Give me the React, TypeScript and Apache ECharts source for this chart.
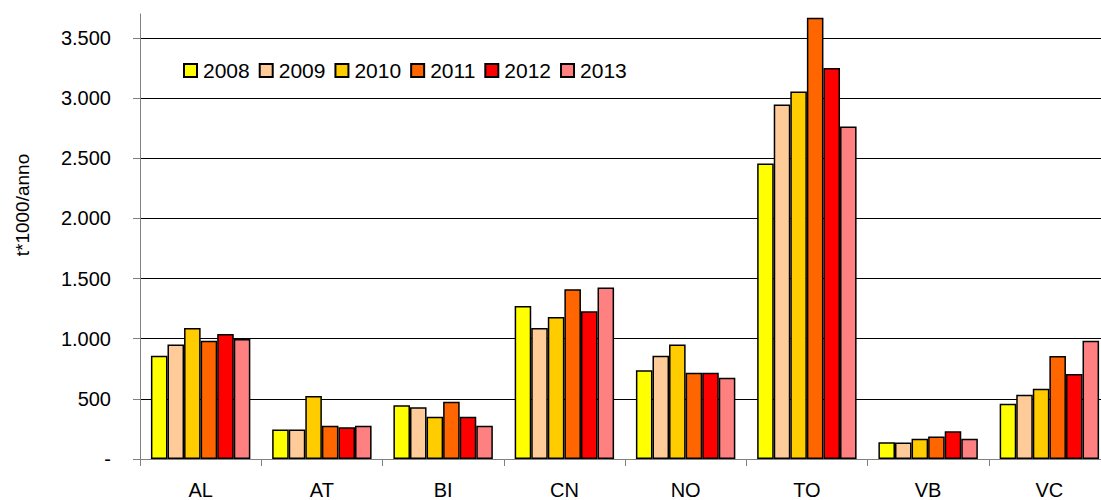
import React, { useEffect, useRef } from "react";
import * as echarts from "echarts";

const categories = ["AL", "AT", "BI", "CN", "NO", "TO", "VB", "VC"];
const years = ["2008", "2009", "2010", "2011", "2012", "2013"];
const colors = ["#FFFF00", "#FFCC99", "#FFCC00", "#FF6600", "#FF0000", "#FF8080"];

const v2008 = [859, 246, 447, 1272, 738, 2456, 139, 460];
const v2009 = [951, 246, 430, 1090, 859, 2947, 137, 535];
const v2010 = [1090, 524, 352, 1181, 951, 3055, 169, 585];
const v2011 = [984, 277, 477, 1411, 718, 3668, 188, 857];
const v2012 = [1040, 264, 352, 1228, 718, 3252, 230, 707];
const v2013 = [998, 277, 277, 1425, 676, 2764, 169, 984];
const seriesValues = [v2008, v2009, v2010, v2011, v2012, v2013];

const yTicks = [0, 500, 1000, 1500, 2000, 2500, 3000, 3500];
const yTitle = "t*1000/anno";

const FONT = "'Liberation Sans', Arial, sans-serif";

function fmt(v: number): string {
  if (v === 0) return "-";
  return String(Math.round(v)).replace(/\B(?=(\d{3})+(?!\d))/g, ".");
}

export default function App() {
  const ref = useRef<HTMLDivElement>(null);
  useEffect(() => {
    if (!ref.current) return;
    const chart = echarts.init(ref.current, undefined, { renderer: "svg" });
    chart.setOption({
      animation: false,
      backgroundColor: "#ffffff",
      textStyle: { fontFamily: FONT },
      grid: { left: 140, top: 14, bottom: 41, width: 970, outerBoundsMode: "none", containLabel: false },
      legend: {
        left: 183,
        top: 60,
        padding: 0,
        icon: "rect",
        itemWidth: 13,
        itemHeight: 13,
        itemGap: 9,
        textStyle: { fontSize: 21, color: "#000", fontFamily: FONT, padding: [0, 0, 0, 1] },
        data: years,
      },
      xAxis: {
        type: "category",
        data: categories,
        axisLine: { lineStyle: { color: "#808080", width: 1 } },
        axisTick: { show: true, length: 7, lineStyle: { color: "#808080" } },
        axisLabel: { fontSize: 20, color: "#000", margin: 21, fontFamily: FONT },
        splitLine: { show: false },
      },
      yAxis: {
        type: "value",
        min: 0,
        max: 3700,
        interval: 500,
        axisLine: { show: true, lineStyle: { color: "#808080", width: 1 } },
        axisTick: { show: true, length: 7, lineStyle: { color: "#808080" }, customValues: yTicks },
        axisLabel: {
          fontSize: 20,
          color: "#000",
          margin: 29,
          fontFamily: FONT,
          customValues: yTicks,
          formatter: (v: number) => fmt(v),
        },
        splitLine: {
          show: true,
          lineStyle: {
            color: ["#000", "#000", "#000", "#000", "#000", "#000", "#000", "#000", "transparent"],
            width: 1,
          },
        },
      },
      graphic: [
        {
          type: "text",
          x: 22,
          y: 205,
          rotation: Math.PI / 2,
          style: {
            text: yTitle,
            fontSize: 19,
            fontFamily: FONT,
            fill: "#000",
            align: "center",
            verticalAlign: "middle",
          },
        },
      ],
      series: years.map((y, i) => ({
        name: y,
        type: "bar",
        data: seriesValues[i],
        barGap: "0%",
        barCategoryGap: "18%",
        itemStyle: { color: colors[i], borderColor: "#000", borderWidth: 1.5 },
      })),
    });
    return () => chart.dispose();
  }, []);
  return <div ref={ref} style={{ width: 1101, height: 500, position: "absolute", left: 0, top: 0 }} />;
}
